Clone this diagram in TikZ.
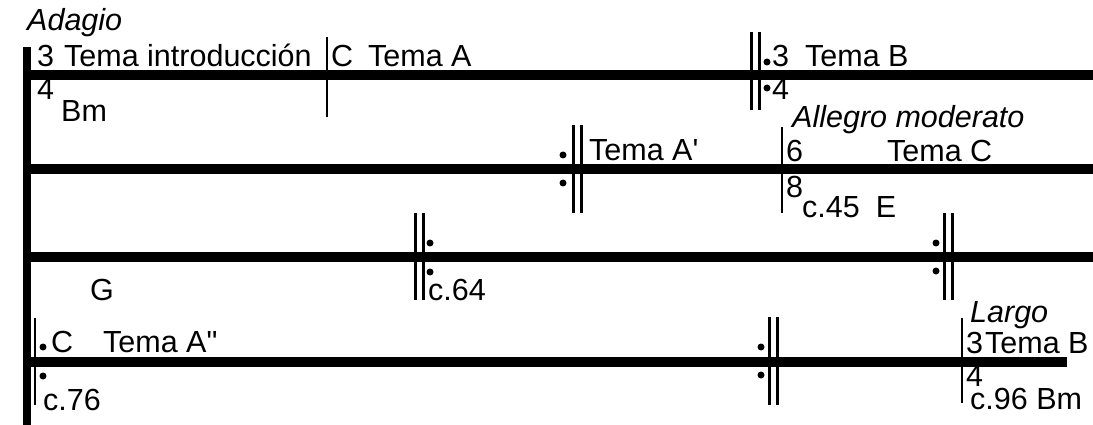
\documentclass[tikz,border=0pt]{standalone}
\usepackage{fontspec}
\setmainfont{Liberation Sans}
\usepackage{tikz}
\usetikzlibrary{positioning}
\newcommand{\dblbarline}[3]{\draw[rptbar] (#1,#2) -- (#1,#3); \draw[rptbar] ({#1+8},#2) -- ({#1+8},#3);}
\newcommand{\rptdots}[3]{\fill (#1,#2) circle (3.5pt); \fill (#1,#3) circle (3.5pt);}

\begin{document}
\begin{tikzpicture}[x=1pt,y=-1pt,
  every node/.style={font=\fontsize{30.5}{36}\selectfont,inner sep=0pt,anchor=base west},
  tempo/.style={font=\fontsize{30.5}{36}\selectfont\itshape},
  staff/.style={line width=10pt},
  thinbar/.style={line width=2pt},
  rptbar/.style={line width=3pt}
]
  \useasboundingbox (0,0) rectangle (1093,425);
  % system line and staves
  \draw[line width=8pt] (27,47) -- (27,425);
  \foreach \y in {75,169,257} \draw[staff] (27,\y) -- (1093,\y);
  \draw[staff] (27,362) -- (1067,362);

  % first line
  \node[tempo] (adagio) at (27,31) {Adagio};
  \node (tsthree) at (37,67) {3};
  \node (tsfour) at (37,100) {4};
  \node (intro) at (64,67) {Tema introducción};
  \node (keybm) at (61,122) {Bm};
  \draw[thinbar] (327,37) -- (327,117);
  \node (metc) at (331,67) {C};
  \node (temaa) at (368,67) {Tema A};
  \dblbarline{751}{32}{110}
  \rptdots{767}{62}{88}
  \node (tsthreeb) at (772,67) {3};
  \node (tsfourb) at (772,100) {4};
  \node (temab) at (805,67) {Tema B};

  % second line
  \rptdots{563}{155}{183}
  \dblbarline{573}{125}{213}
  \node (temaap) at (589,161) {Tema A\textquotesingle};
  \node[tempo] (allegro) at (792,128) {Allegro moderato};
  \draw[thinbar] (782,127) -- (782,213);
  \node (tssix) at (786,162) {6};
  \node (tseight) at (786,197) {8};
  \node (temac) at (887,162) {Tema C};
  \node (cfortyfive) at (802,218) {c.45\hspace{16pt}E};

  % third line
  \node (keyg) at (90,300) {G};
  \dblbarline{415}{213}{300}
  \rptdots{430}{243}{272}
  \node (csixtyfour) at (428,300) {c.64};
  \rptdots{936}{243}{271}
  \dblbarline{944}{213}{300}

  % fourth line
  \draw[thinbar] (35,318) -- (35,405);
  \rptdots{43}{347}{376}
  \node (metcb) at (51,352) {C};
  \node (temaapp) at (103,352) {Tema A\textquotedbl};
  \node (cseventysix) at (43,410) {c.76};
  \rptdots{761}{347}{375}
  \dblbarline{769}{317}{405}
  \draw[thinbar] (962,318) -- (962,403);
  \node[tempo] (largo) at (970,322) {Largo};
  \node (tsthreec) at (966,353) {3};
  \node (tsfourc) at (966,386) {4};
  \node (temabb) at (985,353) {Tema B};
  \node (cninetysix) at (970,409) {c.96 Bm};
\end{tikzpicture}
\end{document}
